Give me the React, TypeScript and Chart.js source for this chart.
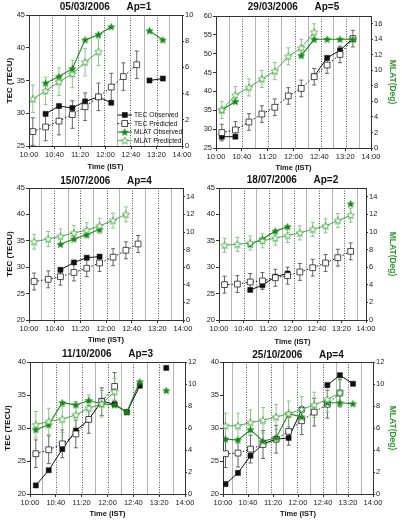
import React, { useEffect, useRef } from 'react';
import { Chart, registerables } from 'chart.js';

Chart.register(...registerables);

const FONT = "'Liberation Sans', Arial, Helvetica, sans-serif";
Chart.defaults.font.family = FONT;

type Series = (number | null)[];

// Time axis: minutes after 10:00 IST, labelled every 40 minutes
const X_TICK_LABELS = ['10:00', '10:40', '11:20', '12:00', '12:40', '13:20', '14:00'];

// ---- 05/03/2006, Ap=1 ----
const P1_TIMES = [6, 26, 47, 68, 88, 109, 129, 148, 169, 189, 210];
const P1_DIVIDERS = [16, 36, 57, 77, 97, 117, 138, 159, 180, 200, 219];
const P1_TEC_OBS: Series = [null, 29.9, 31.1, 30.8, 31.8, 32.5, 31.6, null, null, 35.0, 35.3];
const P1_TEC_PRED: Series = [27.2, 27.9, 28.8, 29.8, 31.0, 32.5, 34.0, 35.6, 37.4, null, null];
const P1_MLAT_OBS: Series = [null, 4.8, 5.3, 5.9, 8.1, 8.5, 9.1, null, null, 8.8, 8.1];
const P1_MLAT_PRED: Series = [3.6, 4.2, 4.9, 5.5, 6.4, 7.2, null, null, null, null, null];

// ---- 29/03/2006, Ap=5 ----
const P2_TIMES = [9, 30, 51, 71, 91, 112, 132, 152, 172, 192, 212];
const P2_DIVIDERS = [20, 41, 61, 81, 101, 122, 143, 162, 181, 202, 221];
const P2_TEC_OBS: Series = [28.0, 28.0, null, null, null, null, null, 44.0, 48.9, 50.9, 54.0];
const P2_TEC_PRED: Series = [29.1, 29.8, 31.9, 34.0, 35.8, 38.8, 40.8, 43.9, 47.0, 49.8, 54.0];
const P2_MLAT_OBS: Series = [4.9, 6.0, null, null, null, null, 11.9, 14.0, 14.0, 14.0, 14.0];
const P2_MLAT_PRED: Series = [4.9, 6.8, 7.8, 8.9, 9.9, 11.8, 12.9, 14.9, null, null, null];

// ---- 15/07/2006, Ap=4 ----
const P3_TIMES = [8, 30, 49, 70, 90, 110, 131, 151, 170];
const P3_DIVIDERS = [18, 39, 60, 80, 100, 121, 140, 161, 181, 201, 221];
const P3_TEC_OBS: Series = [null, null, 29.5, 30.9, 31.8, 32.0, null, null, null];
const P3_TEC_PRED: Series = [27.3, 27.7, 28.2, 29.0, 29.8, 30.8, 31.9, 33.2, 34.4];
const P3_MLAT_OBS: Series = [null, null, 8.6, 9.2, 9.7, 10.3, null, null, null];
const P3_MLAT_PRED: Series = [8.9, 9.2, 9.5, 9.9, 10.2, 10.7, 11.3, 12.0, null];

// ---- 18/07/2006, Ap=2 ----
const P4_TIMES = [9, 30, 51, 71, 92, 112, 132, 153, 174, 194, 215];
const P4_DIVIDERS = [20, 40, 61, 81, 103, 123, 142, 163, 184, 204, 225];
const P4_TEC_OBS: Series = [null, null, 25.7, 26.6, 28.2, 28.8, null, null, null, null, null];
const P4_TEC_PRED: Series = [26.7, 26.8, 27.2, 27.4, 28.0, 28.4, 29.1, 29.9, 30.8, 31.8, 33.0];
const P4_MLAT_OBS: Series = [null, null, 8.6, 9.2, 10.1, 10.6, null, null, null, null, 13.2];
const P4_MLAT_PRED: Series = [8.5, 8.6, 8.75, 9.0, 9.3, 9.6, 9.9, 10.3, 10.7, 11.3, 11.9];

// ---- 11/10/2006, Ap=3 ----
const P5_TIMES = [9, 29, 50, 71, 91, 111, 131, 150, 170, 190, 211];
const P5_DIVIDERS = [19, 40, 60, 81, 101, 121, 141, 160, 181, 200, 221];
const P5_TEC_OBS: Series = [21.3, 23.6, 26.8, 29.6, 31.3, 34.1, 33.6, 32.4, 36.4, null, 39.1];
const P5_TEC_PRED: Series = [26.1, 26.7, 27.6, 29.1, 31.3, 34.0, 36.3, null, null, null, null];
const P5_MLAT_OBS: Series = [5.85, 6.3, 8.3, 8.1, 8.5, 8.2, 8.1, 7.45, 10.2, null, 9.4];
const P5_MLAT_PRED: Series = [6.3, 6.6, 6.8, 7.2, 7.8, 8.2, 9.3, null, null, null, null];

// ---- 25/10/2006, Ap=4 ----
const P6_TIMES = [4, 24, 44, 64, 85, 105, 126, 146, 167, 187, 208];
const P6_DIVIDERS = [15, 36, 56, 77, 96, 118, 139, 160, 181, 200, 221];
const P6_TEC_OBS: Series = [21.5, 23.2, 25.8, 27.6, 28.3, 28.5, 32.8, null, 36.5, 38.0, 36.7];
const P6_TEC_PRED: Series = [26.1, 26.2, 26.8, 27.5, 28.3, 29.5, 31.1, 32.4, 33.6, 35.3, null];
const P6_MLAT_OBS: Series = [5.0, 4.9, 5.85, 4.8, 5.1, 7.3, 7.0, null, 8.3, 8.3, 8.2];
const P6_MLAT_PRED: Series = [6.2, 6.2, 6.5, 6.7, 7.0, 7.3, 7.7, 8.1, 8.6, 9.2, null];

// Panel titles, axis ranges and prediction uncertainties
const TITLES = ['05/03/2006      Ap=1', '29/03/2006      Ap=5', '15/07/2006      Ap=4',
  '18/07/2006      Ap=2', '11/10/2006      Ap=3', '25/10/2006      Ap=4'];
const TEC_RANGES: [number, number][] = [[25, 45], [25, 60], [20, 45], [20, 45], [20, 40], [20, 40]];
const MLAT_MAX = [10, 17, 15, 15, 12, 12];
const TEC_ERR = [2.1, 2.2, 1.6, 1.6, 2.1, 2.1];
const MLAT_ERR = [1.05, 1.1, 0.85, 0.8, 1.2, 1.15];

interface PanelData {
  title: string;
  times: number[];
  dividers: number[];
  tecObs: Series;
  tecPred: Series;
  mlatObs: Series;
  mlatPred: Series;
  tecRange: [number, number];
  mlatMax: number;
  tecErr: number;
  mlatErr: number;
}

const PANELS: PanelData[] = [
  [P1_TIMES, P1_DIVIDERS, P1_TEC_OBS, P1_TEC_PRED, P1_MLAT_OBS, P1_MLAT_PRED],
  [P2_TIMES, P2_DIVIDERS, P2_TEC_OBS, P2_TEC_PRED, P2_MLAT_OBS, P2_MLAT_PRED],
  [P3_TIMES, P3_DIVIDERS, P3_TEC_OBS, P3_TEC_PRED, P3_MLAT_OBS, P3_MLAT_PRED],
  [P4_TIMES, P4_DIVIDERS, P4_TEC_OBS, P4_TEC_PRED, P4_MLAT_OBS, P4_MLAT_PRED],
  [P5_TIMES, P5_DIVIDERS, P5_TEC_OBS, P5_TEC_PRED, P5_MLAT_OBS, P5_MLAT_PRED],
  [P6_TIMES, P6_DIVIDERS, P6_TEC_OBS, P6_TEC_PRED, P6_MLAT_OBS, P6_MLAT_PRED],
].map((s, i) => ({
  title: TITLES[i],
  times: s[0] as number[],
  dividers: s[1] as number[],
  tecObs: s[2] as Series,
  tecPred: s[3] as Series,
  mlatObs: s[4] as Series,
  mlatPred: s[5] as Series,
  tecRange: TEC_RANGES[i],
  mlatMax: MLAT_MAX[i],
  tecErr: TEC_ERR[i],
  mlatErr: MLAT_ERR[i],
}));

// Canvas placement and fixed axis box sizes for each panel
interface PanelBox {
  x: number; y: number;
  leftW: number; rightW: number; bottomH: number;
  titleTop: number; titleBottom: number;
  xTitlePad: number; yTitlePad: number;
  side: 'left' | 'right';
}
const CANVAS_W = 201;
const CANVAS_H = 177;
const BOXES: PanelBox[] = [
  { x: 0, y: 0, leftW: 29, rightW: 19, bottomH: 31, titleTop: 1, titleBottom: 2, xTitlePad: 5.5, yTitlePad: 5.4, side: 'left' },
  { x: 201, y: 0, leftW: 15, rightW: 31, bottomH: 29, titleTop: 1, titleBottom: 3, xTitlePad: 4.5, yTitlePad: 4.2, side: 'right' },
  { x: 0, y: 172, leftW: 29, rightW: 18, bottomH: 29, titleTop: 3, titleBottom: 1, xTitlePad: 4.5, yTitlePad: 5.4, side: 'left' },
  { x: 201, y: 172, leftW: 18, rightW: 36, bottomH: 29, titleTop: 2, titleBottom: 2, xTitlePad: 2.5, yTitlePad: 4.2, side: 'right' },
  { x: 0, y: 344, leftW: 30, rightW: 16, bottomH: 27, titleTop: 4, titleBottom: 2, xTitlePad: 2.5, yTitlePad: 2.7, side: 'left' },
  { x: 201, y: 344, leftW: 22, rightW: 29, bottomH: 27, titleTop: 5, titleBottom: 1, xTitlePad: 2.5, yTitlePad: 4.2, side: 'right' },
];

const BLACK = '#111111';
const GREEN_OBS = '#138a13';
const GREEN_PRED = '#45ad45';
const GREEN_BAR = '#79c279';
const GREEN_TITLE = '#2f9a2f';
const AXIS = '#333333';

function starImage(fill: string, stroke: string, size: number, lineW: number): HTMLCanvasElement {
  const c = document.createElement('canvas');
  c.width = size;
  c.height = size;
  const g = c.getContext('2d')!;
  const cx = size / 2;
  const cy = size / 2 + 0.3;
  const R = size / 2 - lineW - 0.2;
  const r = R * 0.45;
  g.beginPath();
  for (let k = 0; k < 10; k++) {
    const ang = -Math.PI / 2 + (k * Math.PI) / 5;
    const rad = k % 2 === 0 ? R : r;
    const px = cx + rad * Math.cos(ang);
    const py = cy + rad * Math.sin(ang);
    if (k === 0) g.moveTo(px, py);
    else g.lineTo(px, py);
  }
  g.closePath();
  g.fillStyle = fill;
  g.fill();
  if (lineW > 0) {
    g.lineWidth = lineW;
    g.strokeStyle = stroke;
    g.lineJoin = 'miter';
    g.stroke();
  }
  return c;
}

const toPoints = (times: number[], s: Series) => times.map((t, i) => ({ x: t, y: s[i] }));

function decorPlugin(d: PanelData, withLegend: boolean) {
  return {
    id: 'panelDecor',
    beforeDatasetsDraw(chart: any) {
      const { ctx, chartArea: a, scales } = chart;
      const xs = scales.x;
      const ys = scales.y;
      const y1 = scales.y1;
      ctx.save();
      ctx.beginPath();
      ctx.rect(a.left, a.top, a.right - a.left, a.bottom - a.top);
      ctx.clip();
      // vertical interval dividers
      d.dividers.forEach((g, i) => {
        const px = Math.round(xs.getPixelForValue(g)) + 0.5;
        ctx.beginPath();
        if (i % 2 === 0) {
          ctx.setLineDash([]);
          ctx.strokeStyle = '#b4b4b4';
        } else {
          ctx.setLineDash([1, 1.5]);
          ctx.strokeStyle = '#555555';
        }
        ctx.lineWidth = 1;
        ctx.moveTo(px, a.top);
        ctx.lineTo(px, a.bottom);
        ctx.stroke();
      });
      ctx.setLineDash([]);
      // prediction error bars
      const bars = (s: Series, err: number, scale: any, color: string) => {
        ctx.strokeStyle = color;
        ctx.lineWidth = 0.9;
        s.forEach((v, i) => {
          if (v === null) return;
          const px = xs.getPixelForValue(d.times[i]);
          const top = scale.getPixelForValue(v + err);
          const bot = scale.getPixelForValue(v - err);
          ctx.beginPath();
          ctx.moveTo(px, top);
          ctx.lineTo(px, bot);
          ctx.moveTo(px - 2, top);
          ctx.lineTo(px + 2, top);
          ctx.moveTo(px - 2, bot);
          ctx.lineTo(px + 2, bot);
          ctx.stroke();
        });
      };
      bars(d.tecPred, d.tecErr, ys, '#555555');
      bars(d.mlatPred, d.mlatErr, y1, GREEN_BAR);
      ctx.restore();
      // top edge of the frame
      ctx.save();
      ctx.strokeStyle = AXIS;
      ctx.lineWidth = 1;
      ctx.beginPath();
      const ty = Math.round(a.top) + 0.5;
      ctx.moveTo(a.left, ty);
      ctx.lineTo(a.right, ty);
      ctx.stroke();
      ctx.restore();
    },
    afterDatasetsDraw(chart: any) {
      if (!withLegend) return;
      const { ctx, chartArea: a } = chart;
      const x0 = a.right - 64.5;
      const x1 = a.right - 50;
      const tx = a.right - 48;
      ctx.save();
      ctx.font = `6.7px ${FONT}`;
      ctx.textBaseline = 'middle';
      ctx.textAlign = 'left';
      chart.data.datasets.forEach((ds: any, i: number) => {
        const yy = a.bottom - 31 + i * 8.55;
        ctx.strokeStyle = ds.borderColor;
        ctx.lineWidth = ds.borderWidth;
        ctx.setLineDash(ds.borderDash || []);
        ctx.beginPath();
        ctx.moveTo(x0, yy);
        ctx.lineTo(x1, yy);
        ctx.stroke();
        ctx.setLineDash([]);
        const mx = (x0 + x1) / 2;
        if (ds.pointStyle === 'rect') {
          const h = Math.SQRT1_2 * ds.pointRadius;
          ctx.fillStyle = ds.pointBackgroundColor;
          ctx.fillRect(mx - h, yy - h, 2 * h, 2 * h);
          ctx.strokeStyle = ds.pointBorderColor;
          ctx.lineWidth = ds.pointBorderWidth;
          ctx.strokeRect(mx - h, yy - h, 2 * h, 2 * h);
        } else {
          const img = ds.pointStyle as HTMLCanvasElement;
          ctx.drawImage(img, mx - img.width / 2, yy - img.height / 2);
        }
        ctx.fillStyle = BLACK;
        ctx.fillText(ds.label, tx, yy + 0.5);
      });
      ctx.restore();
    },
  };
}

function Panel({ data, box, legend }: { data: PanelData; box: PanelBox; legend: boolean }) {
  const ref = useRef<HTMLCanvasElement | null>(null);
  useEffect(() => {
    if (!ref.current) return;
    const starFilled = starImage(GREEN_OBS, GREEN_OBS, 9, 0.5);
    const starOpen = starImage('#ffffff', GREEN_PRED, 10, 0.9);
    const tickFont = { family: FONT, size: 7.5 };
    const chart = new Chart(ref.current, {
      type: 'line',
      data: {
        datasets: [
          {
            label: 'TEC Observed',
            data: toPoints(data.times, data.tecObs),
            yAxisID: 'y',
            borderColor: BLACK,
            borderWidth: 1,
            pointStyle: 'rect',
            pointRadius: 3.6,
            pointBackgroundColor: BLACK,
            pointBorderColor: BLACK,
            pointBorderWidth: 0.5,
            spanGaps: false,
            order: 3,
          },
          {
            label: 'TEC Predicted',
            data: toPoints(data.times, data.tecPred),
            yAxisID: 'y',
            borderColor: BLACK,
            borderWidth: 1,
            borderDash: [1.5, 2],
            pointStyle: 'rect',
            pointRadius: 4.1,
            pointBackgroundColor: '#ffffff',
            pointBorderColor: '#222222',
            pointBorderWidth: 0.8,
            spanGaps: false,
            order: 2,
          },
          {
            label: 'MLAT Observed',
            data: toPoints(data.times, data.mlatObs),
            yAxisID: 'y1',
            borderColor: GREEN_OBS,
            borderWidth: 1.1,
            pointStyle: starFilled,
            pointRadius: 3.5,
            spanGaps: false,
            order: 1,
          },
          {
            label: 'MLAT Predicted',
            data: toPoints(data.times, data.mlatPred),
            yAxisID: 'y1',
            borderColor: GREEN_PRED,
            borderWidth: 1,
            pointStyle: starOpen,
            pointRadius: 3.5,
            spanGaps: false,
            order: 0,
          },
        ],
      } as any,
      options: {
        responsive: false,
        animation: false,
        events: [],
        layout: { padding: 0 },
        plugins: {
          legend: { display: false },
          tooltip: { enabled: false },
          title: {
            display: true,
            text: data.title,
            fullSize: false,
            color: BLACK,
            font: { family: FONT, size: 10, weight: 'bold', lineHeight: 1.2 },
            padding: { top: box.titleTop, bottom: box.titleBottom },
          },
        },
        scales: {
          x: {
            type: 'linear',
            position: 'bottom',
            min: 0,
            max: 240,
            afterFit: (s: any) => { s.height = box.bottomH; },
            ticks: {
              stepSize: 40,
              autoSkip: false,
              maxRotation: 0,
              padding: 1,
              color: '#222',
              font: tickFont,
              callback: (v: any) => X_TICK_LABELS[Math.round(Number(v) / 40)] ?? '',
            },
            grid: { drawOnChartArea: false, drawTicks: true, tickLength: 3, tickColor: AXIS },
            border: { display: true, color: AXIS, width: 1 },
            title: {
              display: true,
              text: 'Time (IST)',
              color: BLACK,
              font: { family: FONT, size: 7.5, weight: 'bold', lineHeight: 1.2 },
              padding: { top: 0, bottom: box.xTitlePad },
            },
          },
          y: {
            type: 'linear',
            position: 'left',
            min: data.tecRange[0],
            max: data.tecRange[1],
            afterFit: (s: any) => { s.width = box.leftW; },
            ticks: { stepSize: 5, padding: 1, color: '#222', font: tickFont, includeBounds: false },
            grid: { drawOnChartArea: false, drawTicks: true, tickLength: 3, tickColor: AXIS },
            border: { display: true, color: AXIS, width: 1 },
            title: {
              display: box.side === 'left',
              text: 'TEC (TECU)',
              color: BLACK,
              font: { family: FONT, size: 8, weight: 'bold', lineHeight: 1.2 },
              padding: { top: box.yTitlePad, bottom: 0 },
            },
          },
          y1: {
            type: 'linear',
            position: 'right',
            min: 0,
            max: data.mlatMax,
            afterFit: (s: any) => { s.width = box.rightW; },
            ticks: { stepSize: 2, padding: 1, color: '#222', font: tickFont, includeBounds: false },
            grid: { drawOnChartArea: false, drawTicks: true, tickLength: 2, tickColor: AXIS },
            border: { display: true, color: AXIS, width: 1 },
            title: {
              display: box.side === 'right',
              text: 'MLAT(Deg)',
              color: GREEN_TITLE,
              font: { family: FONT, size: 8.5, weight: 'bold', lineHeight: 1.2 },
              padding: { top: box.yTitlePad, bottom: 0 },
            },
          },
        },
      } as any,
      plugins: [decorPlugin(data, legend)],
    });
    return () => chart.destroy();
  }, [data, box, legend]);
  return (
    <canvas
      ref={ref}
      width={CANVAS_W}
      height={CANVAS_H}
      style={{ position: 'absolute', left: box.x, top: box.y, width: CANVAS_W, height: CANVAS_H }}
    />
  );
}

export default function App() {
  return (
    <div style={{ position: 'absolute', left: 0, top: 0, width: 402, height: 521, background: '#ffffff', overflow: 'hidden' }}>
      {PANELS.map((p, i) => (
        <Panel key={i} data={p} box={BOXES[i]} legend={i === 0} />
      ))}
    </div>
  );
}
